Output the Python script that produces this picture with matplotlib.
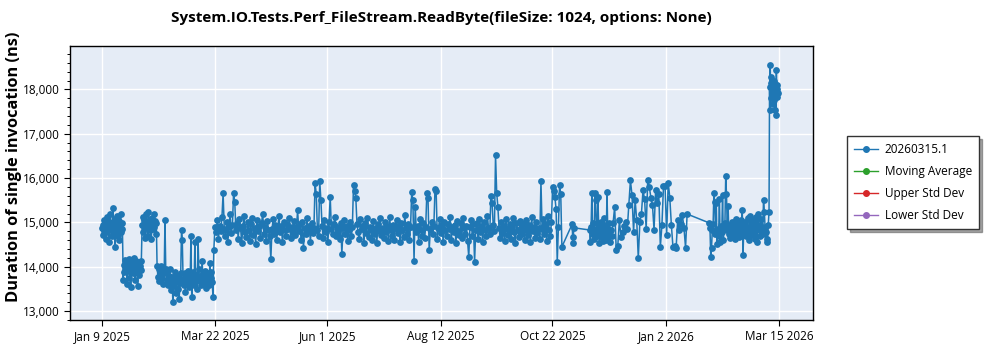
import matplotlib
matplotlib.use("Agg")
import matplotlib.pyplot as plt
import matplotlib.dates as mdates
from matplotlib.lines import Line2D
from matplotlib.ticker import FuncFormatter, MultipleLocator, FixedLocator
import pandas as pd

# ---------------- DATA ----------------
title = "System.IO.Tests.Perf_FileStream.ReadByte(fileSize: 1024, options: None)"
ylabel = "Duration of single invocation (ns)"
series_names = ["20260315.1", "Moving Average", "Upper Std Dev", "Lower Std Dev"]
series_colors = ["#1f77b4", "#2ca02c", "#d62728", "#9467bd"]

tick_dates = ["2025-01-09", "2025-03-22", "2025-06-01", "2025-08-12",
              "2025-10-22", "2026-01-02", "2026-03-15"]
tick_labels = ["Jan 9 2025", "Mar 22 2025", "Jun 1 2025", "Aug 12 2025",
               "Oct 22 2025", "Jan 2 2026", "Mar 15 2026"]
x_range = ["2024-12-19 17:00", "2026-04-05 10:00"]
y_range = [12800, 18980]

# run segments: (first run time, last run time) -> measured values (ns)
seg_a_time = ("2025-01-09 00:00", "2025-01-22 00:00")
seg_a = [14880, 14950, 14720, 15060, 14810, 14990, 14620, 14900, 15130, 14780,
         14870, 15010, 14550, 14930, 15200, 14840, 14980, 14690, 15320, 14910,
         14760, 15080, 14450, 14960, 14830, 15150, 14700, 14880, 15040, 14600,
         14920, 15180, 14790, 14990, 14850]

seg_b_time = ("2025-01-22 12:00", "2025-02-03 00:00")
seg_b = [13700, 14050, 13880, 14150, 13960, 14080, 13620, 14020, 13900, 14180,
         13750, 14000, 13540, 14100, 13930, 14060, 13850, 14200, 13980, 13700,
         14120, 13890, 14030, 13560, 13950, 14090, 13820, 14010, 13920, 14140]

seg_c_time = ("2025-02-03 12:00", "2025-02-12 12:00")
seg_c = [14950, 15120, 14780, 15050, 14660, 14990, 15180, 14880, 15020, 14700,
         15240, 14930, 15080, 14820, 15000, 14620, 15110, 14960, 14850, 15190,
         14900, 15040, 14750, 14980]

seg_d_time = ("2025-02-13 00:00", "2025-03-20 12:00")
seg_d = [14010, 13780, 13950, 13690, 13880, 14020, 13740, 13900, 13620, 13850,
         15050, 13960, 13710, 13890, 13580, 13800, 13940, 13650, 13480, 13760,
         13210, 13700, 13560, 13880, 13420, 13670, 13790, 13510, 13270, 13640,
         13850, 14820, 14600, 13720, 13590, 13860, 13430, 13750, 13620, 13900,
         13550, 13800, 13680, 14690, 13320, 13740, 13880, 13600, 14560, 13700,
         13820, 13510, 14620, 13950, 13680, 13790, 13580, 14130, 13870, 13640,
         13760, 13900, 13530, 13820, 13690, 13850, 13600, 14080, 13740, 13880,
         13650, 13310]

seg_e_time = ("2025-03-21 00:00", "2025-10-28 00:00")
seg_e = [14370, 14900, 14780, 15050, 14620, 14930, 14810, 15120, 15660, 14850,
         14700, 15010, 14560, 14890, 15180, 14760, 14950, 15670, 15460, 14820,
         14990, 14630, 15080, 14870, 14540, 14920, 15140, 14780, 14680, 15020,
         14840, 14590, 14960, 15110, 14720, 14880, 14510, 15060, 14800, 14930,
         14660, 14980, 15200, 14750, 14900, 14580, 15030, 14820, 14690, 14170,
         14860, 15070, 14740, 14950, 14610, 14880, 15150, 14790, 14920, 14550,
         15010, 14830, 14700, 14970, 14860, 15090, 14640, 14900, 14780, 15040,
         14720, 14890, 15270, 14810, 14960, 14600, 15000, 14420, 14870, 14750,
         15100, 14840, 14930, 14570, 14990, 14760, 14880, 15880, 15650, 14820,
         14700, 15940, 15500, 14910, 14650, 15050, 14780, 14870, 14560, 15020,
         15580, 14850, 14730, 14960, 15120, 14690, 14900, 14810, 14620, 14980,
         14290, 14870, 15060, 14750, 14930, 14590, 14840, 15010, 14700, 14890,
         15840, 15700, 15550, 14960, 14780, 14620, 15080, 14850, 14930, 14540,
         14990, 14770, 15110, 14680, 14900, 14820, 14600, 15030, 14750, 14880,
         14530, 14960, 14810, 15090, 14720, 14870, 14640, 15000, 14790, 14930,
         14580, 15120, 14840, 14700, 14950, 14610, 14880, 15050, 14760, 14910,
         14550, 14990, 14820, 14680, 15160, 14870, 14740, 14960, 14600, 14900,
         15690, 15500, 14130, 15350, 14780, 14920, 14560, 15070, 14830, 14700,
         14980, 14640, 14890, 15670, 15550, 14370, 14850, 15020, 14730, 14910,
         15750, 15700, 14620, 14880, 15080, 14760, 14940, 14570, 15010, 14820,
         14690, 14970, 14850, 15130, 14600, 14900, 14780, 14950, 14530, 15040,
         14810, 14720, 14990, 14640, 15100, 14870, 14750, 14920, 14580, 14220,
         14890, 15050, 14700, 14960, 14110, 14830, 14990, 14620, 15070, 14780,
         14910, 14560, 15000, 14840, 14690, 15150, 14870, 14730, 15590, 15440,
         14950, 14800, 16520, 15670, 15350, 14880, 14640, 15020, 14760, 14930,
         14590, 15080, 14850, 14710, 14970, 14620, 14900, 15110, 14780, 14540,
         14990, 14820, 14680, 15040, 14870, 14750, 14960, 14600, 15060, 14830,
         14710, 14940, 14560, 15120, 14800, 14900, 14650, 15000, 14770, 14880,
         14620, 15940, 14850, 15070, 14730, 14960, 14580, 15150, 14820, 14690,
         15000, 15800, 15700, 15570, 15300, 14110, 14900, 15840, 15650, 14450]

seg_j_time = ("2025-11-03 12:00", "2025-11-04 12:00")
seg_j = [14960, 14670, 14540, 14880]

seg_f_time = ("2025-11-14 14:00", "2025-11-28 12:00")
seg_f = [14830, 14560, 14900, 15670, 14750, 14980, 14620, 15670, 15500, 14850,
         14700, 15580, 14930, 14540, 14810, 15020, 14680, 14880, 14590, 15100,
         14770, 14940, 14600, 15690, 14860, 14720, 14980, 14560, 14830, 14700]

seg_g_time = ("2025-11-29 12:00", "2026-01-15 12:00")
seg_g = [14990, 15350, 14370, 14480, 15050, 14680, 14780, 14920, 15010, 14850,
         15390, 15950, 15620, 14790, 15500, 15050, 14190, 15010, 15200, 15730,
         15520, 14850, 15950, 15800, 15560, 15390, 14830, 15730, 15430, 15650,
         14450, 14940, 15820, 15820, 14710, 15900, 15560, 14940, 14450, 14480,
         14420, 15050, 14830, 14960, 15160, 14880, 14430, 15190]

seg_h_time = ("2026-01-29 12:00", "2026-03-08 12:00")
seg_h = [14990, 14880, 14220, 14430, 14840, 14960, 15670, 15470, 14750, 15430,
         14520, 14860, 14700, 15540, 14550, 14920, 14780, 15620, 14600, 14890,
         14980, 16040, 15640, 14830, 15380, 14740, 14950, 14660, 14780, 15010,
         14850, 14720, 14960, 14630, 15080, 14900, 14770, 14990, 14680, 14870,
         15060, 14750, 15280, 14260, 14930, 14810, 15020, 14700, 14890, 15110,
         14780, 14600, 15150, 14840, 14960, 14710, 15050, 14880, 14620, 14990,
         15120, 14560, 15200, 14830, 14950, 14690, 15070, 14860, 14740, 15510,
         15240, 14900, 14780, 14620, 14560, 14940, 15240]

seg_i_time = ("2026-03-08 20:00", "2026-03-14 00:00")
seg_i = [18050, 17530, 18550, 18150, 17800, 18280, 17960, 18100, 17850, 18200,
         17680, 18020, 17900, 18180, 17750, 18060, 17530, 17950, 18120, 17420,
         17880, 18440, 18000, 17820, 18100, 17930]

segments = [(seg_a_time, seg_a), (seg_b_time, seg_b), (seg_c_time, seg_c),
            (seg_d_time, seg_d), (seg_e_time, seg_e), (seg_j_time, seg_j),
            (seg_f_time, seg_f), (seg_g_time, seg_g), (seg_h_time, seg_h),
            (seg_i_time, seg_i)]

# ---------------- BUILD SERIES ----------------
times, values = [], []
for (t0, t1), vals in segments:
    times.extend(pd.date_range(t0, t1, periods=len(vals)))
    values.extend(vals)

# ---------------- PLOT ----------------
plt.rcParams['font.family'] = ['Open Sans', 'DejaVu Sans']

fig = plt.figure(figsize=(10, 3.5), dpi=100)
ax = fig.add_axes([0.070, 0.0857, 0.743, 0.783])
ax.set_facecolor('#e5ecf6')

ax.plot(times, values, '-o', color=series_colors[0], lw=1.1, ms=4.9,
        markeredgewidth=0, zorder=3)
for name, col in zip(series_names[1:], series_colors[1:]):
    ax.plot([], [], '-o', color=col, lw=1.0, ms=4.0)

ax.set_xlim(pd.to_datetime(x_range[0]), pd.to_datetime(x_range[1]))
ax.set_ylim(*y_range)

ax.xaxis.set_major_locator(FixedLocator(mdates.date2num(pd.to_datetime(tick_dates))))
ax.set_xticklabels(tick_labels)
ax.yaxis.set_major_locator(MultipleLocator(1000))
ax.yaxis.set_minor_locator(MultipleLocator(200))
ax.yaxis.set_major_formatter(FuncFormatter(lambda v, p: f"{int(v):,}"))

ax.grid(True, which='major', color='white', lw=1.0, zorder=0)
ax.set_axisbelow(True)
ax.tick_params(axis='both', which='major', direction='out', length=4, width=0.8,
               labelsize=8.5, colors='black')
ax.tick_params(axis='y', which='minor', direction='out', length=2.5, width=0.7)
for s in ax.spines.values():
    s.set_color('black')
    s.set_linewidth(1.0)

fig.text(0.4415, 1 - 18 / 350, title, ha='center', va='center',
         fontsize=11, fontweight='bold')
fig.text(0.014, 0.523, ylabel, ha='center', va='center', rotation=90,
         fontsize=11.8, fontweight='bold')

handles = [Line2D([], [], color=c, marker='o', lw=1.0, ms=4.0) for c in series_colors]
leg = fig.legend(handles, series_names, loc='upper left',
                 bbox_to_anchor=(0.847, 0.611), borderaxespad=0.0,
                 frameon=True, fancybox=False,
                 shadow=True, edgecolor='#333333', fontsize=8.5,
                 labelspacing=0.75, handlelength=2.0, borderpad=0.6,
                 handletextpad=0.6)
leg.get_frame().set_linewidth(1.0)

fig.savefig('out.png', dpi=100)
